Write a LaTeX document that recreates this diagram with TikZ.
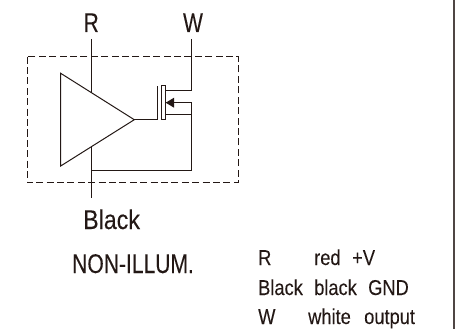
\documentclass[tikz,border=0pt]{standalone}
\usepackage{fontspec}
\setmainfont[FakeStretch=0.85,FakeBold=0.08]{Liberation Sans}
\newfontfamily\capsfont[FakeStretch=0.78,FakeBold=0.08]{Liberation Sans}
\newfontfamily\lowfont[FakeStretch=0.86,FakeBold=0.08]{Liberation Sans}
\definecolor{ink}{HTML}{231815}
\tikzset{
  wire/.style={draw=ink,line width=1pt},
  big/.style={inner sep=0pt,text=ink,font=\capsfont\fontsize{27}{30}\selectfont},
  biglow/.style={inner sep=0pt,text=ink,font=\lowfont\fontsize{27}{30}\selectfont},
  small/.style={inner sep=0pt,text=ink,anchor=base west,font=\fontsize{21.5}{24}\selectfont},
}
\begin{document}
\begin{tikzpicture}[x=1pt,y=-1pt]
\useasboundingbox (0,0) rectangle (461,329);
\draw[draw=ink!80!white,line width=1.5pt] (454,0) -- (454,329);
\draw[wire,dash pattern=on 7pt off 3.4pt] (27,56.7) rectangle (238,182.7);
% coordinates
\coordinate (Rtop) at (91.7,39);
\coordinate (Rin) at (91.7,93);
\coordinate (Bin) at (91.7,146.5);
\coordinate (Bjoin) at (91.7,170);
\coordinate (Bend) at (91.7,198);
\coordinate (Wtop) at (191.7,39);
\coordinate (Wd) at (191.7,91);
\coordinate (Rj) at (191.7,170);
\coordinate (Sj) at (191.7,114.7);
\coordinate (Bu) at (191.7,102.7);
\coordinate (T1) at (60.7,73.3);
\coordinate (T2) at (60.7,166);
\coordinate (Tip) at (134.3,119.7);
\coordinate (G1) at (157,86);
\coordinate (G2) at (157,119.7);
\coordinate (Cd) at (165.7,91);
\coordinate (Cs) at (165.7,114.7);
\coordinate (Ca) at (165.7,102.7);
\draw[wire,line join=miter] (T1) -- (Tip) -- (T2) -- cycle;
\draw[wire] (Rtop) -- (Rin);
\draw[wire] (Bin) -- (Bend);
\draw[wire] (Bjoin) -- (Rj) -- (Bu) -- (Ca);
\draw[wire] (Wtop) -- (Wd) -- (Cd);
\draw[wire] (Sj) -- (Cs);
\draw[wire] (Tip) -- (G2) -- (G1);
\draw[wire] (161,85.7) rectangle (165.7,120);
\fill[ink] (Ca) -- (174,97.7) -- (174,107.7) -- cycle;
\node[big,anchor=base] (lr) at (91.2,32) {R};
\node[big,anchor=base] (lw) at (193,32) {W};
\node[biglow,anchor=base west] (lb) at (83,229) {Black};
\node[big,anchor=base west] (ln) at (72,273) {NON-ILLUM.};
\node[small] (a1) at (258,265) {R};
\node[small] (a2) at (314,265) {red};
\node[small] (a3) at (352,265) {+V};
\node[small] (b1) at (258,295) {Black};
\node[small] (b2) at (314,295) {black};
\node[small] (b3) at (368,295) {GND};
\node[small] (c1) at (258,324) {W};
\node[small] (c2) at (308,324) {white};
\node[small] (c3) at (364,324) {output};
\end{tikzpicture}
\end{document}
